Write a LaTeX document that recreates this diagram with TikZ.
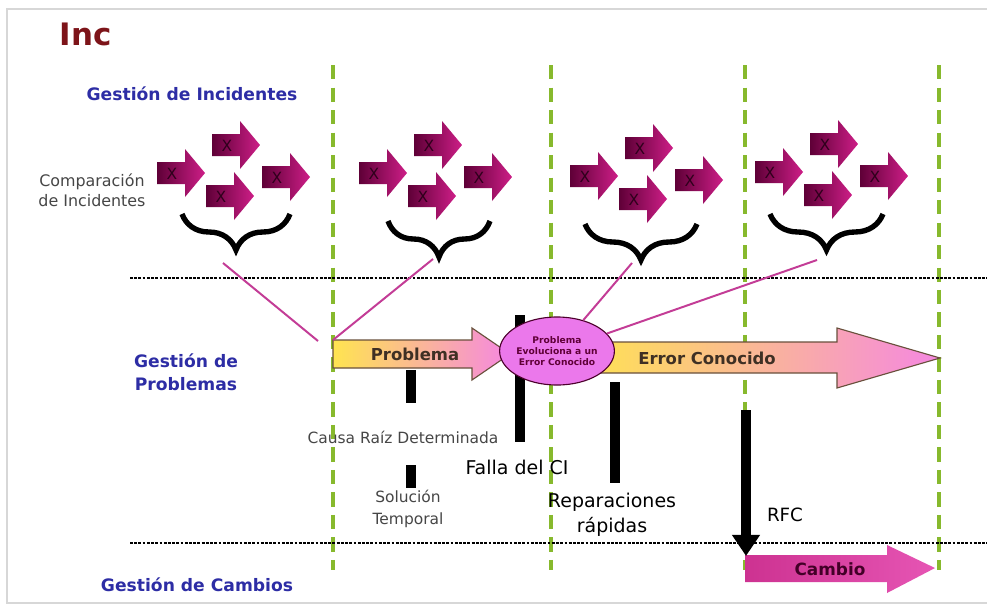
\documentclass[tikz,border=0pt]{standalone}
\usepackage{fontspec}
\setmainfont{DejaVu Sans}
\usetikzlibrary{arrows.meta,decorations.pathreplacing,shapes.geometric}
\definecolor{incred}{RGB}{125,20,25}
\definecolor{incblue}{RGB}{45,45,165}
\definecolor{incgreen}{RGB}{135,185,45}
\definecolor{incplum}{RGB}{95,0,55}
\definecolor{incmag}{RGB}{205,30,135}
\definecolor{incline}{RGB}{195,60,150}
\definecolor{incyellow}{RGB}{255,228,80}
\definecolor{incpink}{RGB}{245,135,225}
\definecolor{incviolet}{RGB}{235,120,235}
\definecolor{incedge}{RGB}{105,80,60}
\definecolor{incgray}{RGB}{70,70,70}
\definecolor{incframe}{RGB}{215,215,215}
\definecolor{incchange}{RGB}{205,50,145}
\definecolor{incchange2}{RGB}{230,85,180}
\tikzset{
  lane/.style={font=\bfseries\fontsize{12.2}{16.4}\selectfont,text=incblue,align=center},
  note/.style={font=\fontsize{11}{15.6}\selectfont,text=incgray,align=center},
  bignote/.style={font=\fontsize{13.5}{17.8}\selectfont,text=black,align=center},
  phase/.style={incgreen,line width=2.8pt,dash pattern=on 10pt off 6pt},
  divider/.style={black,line width=1.8pt,dash pattern=on 2pt off 1pt},
  link/.style={incline,line width=1.4pt},
  marker/.style={black,line width=7pt},
  curly/.style={decorate,decoration={brace,mirror,amplitude=0.9cm},line width=3.8pt},
  rfc/.style={black,line width=7pt,-{Triangle[length=15pt,width=19pt]}},
  band/.style={font=\bfseries\fontsize{11.7}{14}\selectfont,text=incedge!60!black},
  evolve/.style={ellipse,draw=incplum!80!black,fill=incviolet,line width=0.8pt,
    minimum width=2.4cm,minimum height=1.7cm,inner sep=0pt,align=center,
    font=\bfseries\fontsize{6.5}{7.8}\selectfont,text=incplum},
  % pictograms
  pics/incarrow/.style={code={
    \shade[left color=incplum,right color=incmag] (0,-11) -- (28,-11) -- (28,-24) -- (48,0) -- (28,24) -- (28,11) -- (0,11) -- cycle;
    \node[font=\fontsize{11}{12}\selectfont,text=incplum!50!black] (-x) at (15,1) {X};
  }},
  pics/incgroup/.style={code={
    \pic at (0,0) {incarrow};
    \pic at (55,-28) {incarrow};
    \pic at (49,23) {incarrow};
    \pic at (105,4) {incarrow};
  }},
}
\begin{document}
\begin{tikzpicture}[x=0.025cm,y=-0.025cm]
  \useasboundingbox[fill=white] (0,0) rectangle (987,607);
  \draw[incframe,line width=0.8pt] (987,9) -- (7,9) -- (7,603) -- (987,603);
  % phases and lanes
  \foreach \lx in {333,551,745,939} \draw[phase] (\lx,65) -- (\lx,570);
  \draw[divider] (130,278) -- (987,278);
  \draw[divider] (130,543) -- (987,543);
  \node[font=\bfseries\fontsize{22}{26}\selectfont,text=incred,anchor=west] (title) at (55,34) {Inc};
  \node[lane] (lane1) at (192,94) {Gestión de Incidentes};
  \node[lane] (lane2) at (186,372) {Gestión de\\Problemas};
  \node[lane] (lane3) at (197,585) {Gestión de Cambios};
  \node[note,font=\fontsize{11.3}{14.2}\selectfont] (comp) at (92,190) {Comparación\\de Incidentes};
  % incidents
  \foreach \gx/\gy in {157/173,359/173,570/176,755/172} \pic at (\gx,\gy) {incgroup};
  \foreach \bl/\br/\by in {182/290/214,388/490/221,585/697/224,770/883/214}
    \draw[curly] (\bl,\by) -- (\br,\by);
  \coordinate (s1) at (223,263);
  \coordinate (s2) at (433,259);
  \coordinate (s3) at (632,263);
  \coordinate (s4) at (817,260);
  % markers
  \draw[marker] (411,370) -- (411,403);
  \draw[marker] (411,465) -- (411,488);
  \draw[marker] (520,315) -- (520,442);
  \draw[marker] (615,382) -- (615,483);
  % problem timeline
  \shadedraw[left color=incyellow,right color=incpink,draw=incedge,line width=0.8pt]
    (580,342) -- (837,342) -- (837,328) -- (940,358) -- (837,388) -- (837,373) -- (580,373) -- cycle;
  \shadedraw[left color=incyellow,right color=incpink,draw=incedge,line width=0.8pt]
    (333,340) -- (472,340) -- (472,328) -- (510,354) -- (472,380) -- (472,368) -- (333,368) -- cycle;
  \node[band] (prob) at (415,354) {Problema};
  \node[band] (errc) at (707,358) {Error Conocido};
  \node[evolve] (evol) at (557,351) {Problema\\Evoluciona a un\\Error Conocido};
  \coordinate (p0) at (318,341);
  \coordinate (p1) at (333,340);
  \draw[link] (s1) -- (p0);
  \draw[link] (s2) -- (p1);
  \draw[link] (s3) -- (evol);
  \draw[link] (s4) -- (evol);
  \node[note] (causa) at (403,437) {Causa Raíz Determinada};
  \node[note] (sol) at (408,509) {Solución\\Temporal};
  \node[bignote] (falla) at (517,467) {Falla del CI};
  \node[bignote] (rep) at (612,515) {Reparaciones\\rápidas};
  % change
  \shade[left color=incchange,right color=incchange2]
    (745,555) -- (887,555) -- (887,545) -- (935,568) -- (887,593) -- (887,582) -- (745,582) -- cycle;
  \node[font=\bfseries\fontsize{12}{14}\selectfont,text=incplum!70!black] (camb) at (830,569) {Cambio};
  \coordinate (rfctop) at (746,410);
  \coordinate (rfcend) at (746,556);
  \draw[rfc] (rfctop) -- (rfcend);
  \node[bignote,font=\fontsize{13}{16}\selectfont] (rfclabel) at (785,515) {RFC};
\end{tikzpicture}
\end{document}
